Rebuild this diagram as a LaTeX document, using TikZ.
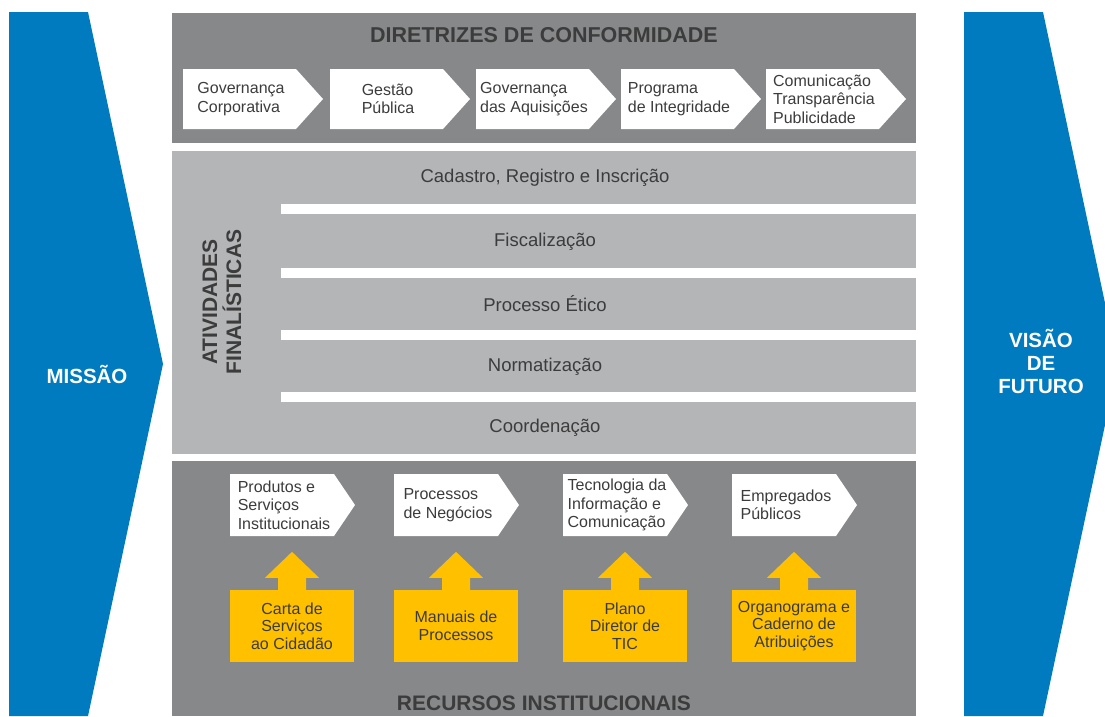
\documentclass[tikz,border=0pt]{standalone}
\usepackage{fontspec}
\setmainfont{Liberation Sans}
\usepackage{tikz}
\usetikzlibrary{
	calc,
	positioning,
}
\definecolor{azul}{RGB}{0,123,192}
\definecolor{cinza}{RGB}{135,136,138}
\definecolor{cinzaclaro}{RGB}{180,181,183}
\definecolor{amarelo}{RGB}{255,192,0}
\definecolor{texto}{RGB}{60,60,60}
\tikzset{default node/.style={inner sep=0pt,text=texto,align=center,}}
\tikzset{titulo/.style={font=\fontsize{21.5}{24}\selectfont\bfseries,}}
\tikzset{lado/.style={text=white,font=\fontsize{20.5}{23}\selectfont\bfseries,}}
\tikzset{seta/.style={align=left,font=\fontsize{16}{18.5}\selectfont,}}
\tikzset{linha/.style={font=\fontsize{18.5}{21}\selectfont,}}
\tikzset{caixa/.style={fill=amarelo,minimum width=124pt,minimum height=72pt,font=\fontsize{16}{17.5}\selectfont,}}

\begin{document}
\begin{tikzpicture}[x=1pt,y=-1pt,every node/.style={default node}]

\useasboundingbox (0,0) rectangle (1105,716);

\fill[azul] (9,12) -- (88,12) -- (163,364) -- (88,716) -- (9,716) -- cycle;
\fill[azul] (964,12) -- (1043,12) -- (1118,364) -- (1043,716) -- (964,716) -- cycle;
\node[lado] (missao) at (87,374) {MISSÃO};
\node[lado] (visao) at (1041,361) {VISÃO\\DE\\FUTURO};

\fill[cinza] (172,13) rectangle (916,143);
\fill[cinzaclaro] (172,151) rectangle (916,454);
\fill[cinza] (172,461) rectangle (916,716);

\node[titulo] (diretrizes) at (544,35) {DIRETRIZES DE CONFORMIDADE};
\foreach \x/\nome/\txt in {183/governanca/{Governança\\Corporativa},
	330/gestao/{Gestão\\Pública},
	476/aquisicoes/{Governança\\das Aquisições},
	621/integridade/{Programa\\de Integridade},
	766/comunicacao/{Comunicação\\Transparência\\Publicidade}}{
	\fill[white] (\x,69) -- ++(113,0) -- ++(27,30) -- ++(-27,30) -- ++(-113,0) -- cycle;
	\node[seta] (\nome) at (\x+58,99) {\txt};
}

\foreach \y in {204,268,330,392}
	\fill[white] (281,\y) rectangle (916,\y+10);
\node[titulo,font=\fontsize{21}{24}\selectfont\bfseries,rotate=90] (atividades) at (222,302) {ATIVIDADES\\FINALÍSTICAS};
\node[linha] (cadastro) at (545,178) {Cadastro, Registro e Inscrição};
\node[linha] (fiscalizacao) at (545,242) {Fiscalização};
\node[linha] (etico) at (545,304) {Processo Ético};
\node[linha] (normatizacao) at (545,367) {Normatização};
\node[linha] (coordenacao) at (545,428) {Coordenação};

\node[titulo,font=\fontsize{21}{24}\selectfont\bfseries] (recursos) at (544,703) {RECURSOS INSTITUCIONAIS};
\foreach \x/\nome/\txt/\cnome/\ctxt in {230/produtos/{Produtos e\\Serviços\\Institucionais}/carta/{Carta de\\Serviços\\ao Cidadão},
	394/processos/{Processos\\de Negócios}/manuais/{Manuais de\\Processos},
	563/tecnologia/{Tecnologia da\\Informação e\\Comunicação}/plano/{Plano\\Diretor de\\TIC},
	732/empregados/{Empregados\\Públicos}/organograma/{Organograma e\\Caderno de\\Atribuições}}{
	\fill[white] (\x,474) -- ++(104,0) -- ++(21,31) -- ++(-21,31) -- ++(-104,0) -- cycle;
	\node[seta] (\nome) at (\x+54,505) {\txt};
	\node[caixa] (\cnome) at (\x+62,626) {\ctxt};
	\fill[amarelo] ($(\cnome.north)+(-14,0)$) -- ++(0,-12) -- ++(-13,0) -- ++(27,-26) -- ++(27,26) -- ++(-13,0) -- ++(0,12) -- cycle;
}

\end{tikzpicture}
\end{document}
